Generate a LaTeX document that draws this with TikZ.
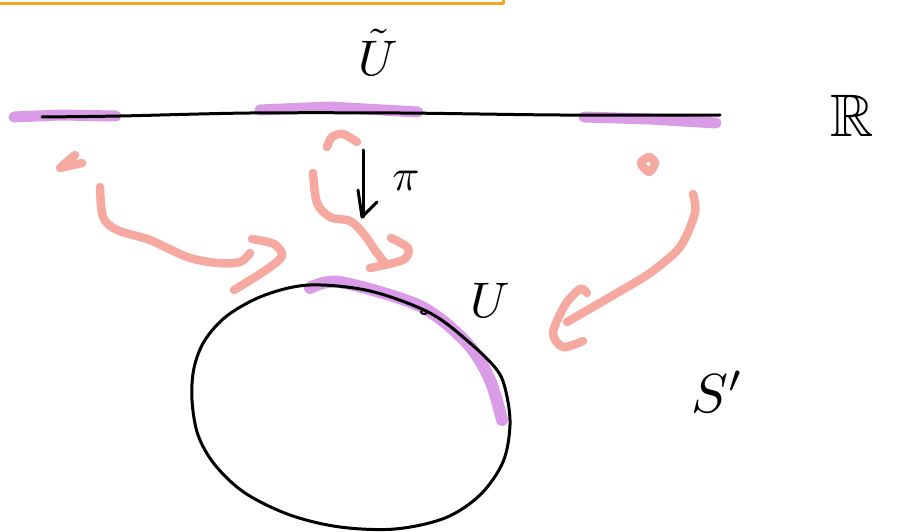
\documentclass[tikz,border=0pt]{standalone}
\usepackage{amssymb}
\begin{document}
\begin{tikzpicture}[x=1pt,y=-1pt,line cap=round,line join=round,
  ink/.style={draw=black,line width=3pt},
  hilite/.style={draw=hl,line width=11pt,opacity=0.95},
  pen/.style={draw=salmon,line width=8.5pt},
  lab/.style={inner sep=0pt}]
\definecolor{hl}{RGB}{216,150,230}
\definecolor{salmon}{RGB}{246,169,160}
\definecolor{boxorange}{RGB}{245,166,35}
\useasboundingbox (0,0) rectangle (898,532);
% orange box
\draw[draw=boxorange,line width=3pt] (-5,4) -- (503,4) -- (503,-5);
% purple highlights on line
\draw[hilite] (14,117) -- (60,115) -- (116,116);
\draw[hilite] (260,110) -- (330,107) -- (418,112);
\draw[hilite] (584,117) -- (650,119) -- (716,123);
% black line
\draw[ink] plot[smooth] coordinates {(42,117) (120,116) (250,113) (400,113) (560,115) (720,115)};
% purple highlight on ellipse
\draw[hilite,line width=12pt] plot[smooth] coordinates {(310,288) (340,282) (420,306) (467,343) (490,380) (502,420)};
% ellipse
\draw[ink] plot[smooth cycle,tension=0.55] coordinates {(310,285) (370,291) (430,313) (470,343) (497,370) (506,392) (510,425) (503,462) (480,495) (445,518) (395,529) (340,527) (290,515) (245,493) (215,465) (198,435) (192,400) (194,368) (205,340) (228,315) (265,295)};
\draw[ink,line width=2pt] (424,312) ellipse (3pt and 2pt);
% pi arrow
\draw[ink] (363,150) -- (363,217);
\draw[ink] (358,190) -- (362,217) -- (377,202);
% salmon strokes: left
\draw[pen] (60,168) -- (82,163);
\draw[pen] (62,166) -- (75,155);
\draw[pen] plot[smooth] coordinates {(100,187) (103,217) (117,230) (150,240) (187,257) (217,263) (240,262) (250,253)};
\draw[pen] plot[smooth] coordinates {(252,239) (274,244) (282,256) (266,270) (234,290)};
% salmon middle
\draw[pen] plot[smooth] coordinates {(327,147) (332,137) (343,134) (357,142)};
\draw[pen] plot[smooth] coordinates {(313,173) (317,203) (330,217) (350,221) (363,233) (377,253) (385,263)};
\draw[pen] plot[smooth] coordinates {(370,268) (403,260) (408,248) (391,238)};
% salmon right
\draw[pen] plot[smooth cycle] coordinates {(641,163) (649,157) (655,163) (649,172)};
\draw[pen] plot[smooth] coordinates {(693,194) (695,213) (680,247) (650,273) (617,293) (567,322)};
\draw[pen] plot[smooth] coordinates {(587,293) (580,289) (565,305) (553,333) (563,347) (583,341)};
% labels
\node[lab] (ut) at (378,52) {\scalebox{5}{$\tilde{U}$}};
\node[lab] (pi) at (406,181) {\scalebox{4.5}{$\pi$}};
\node[lab] (u) at (490,300) {\scalebox{5}{$U$}};
\node[lab] (s) at (718,392) {\scalebox{5.5}{$S'$}};
\node[lab] (r) at (852,116) {\scalebox{6}{$\mathbb{R}$}};
\end{tikzpicture}
\end{document}
